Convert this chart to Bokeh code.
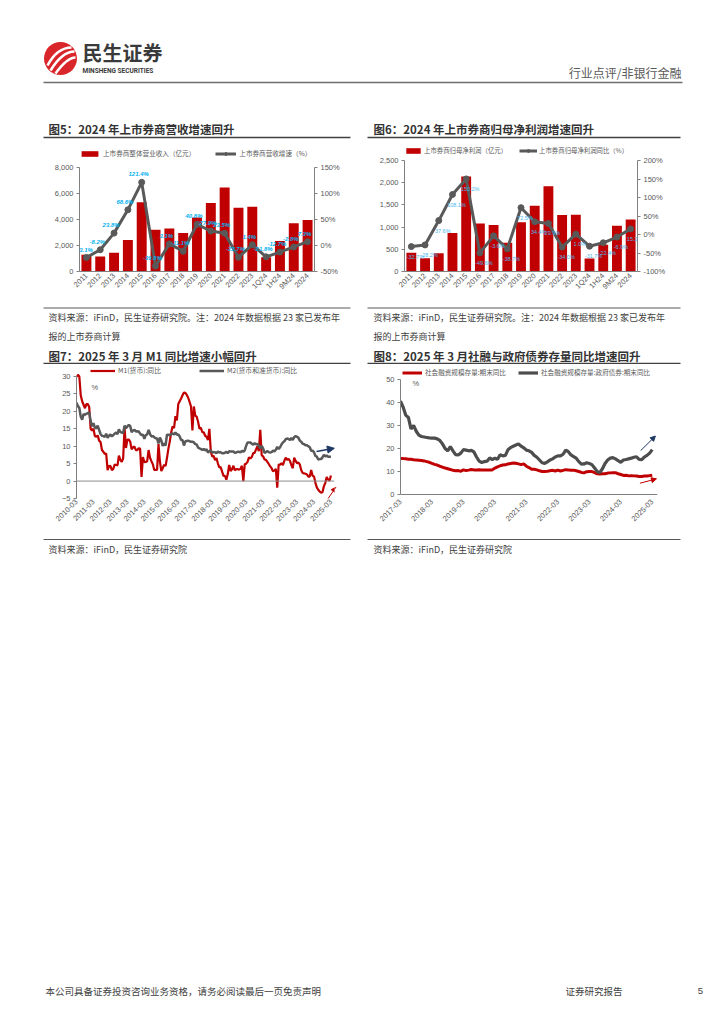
import math
from bokeh.plotting import figure
from bokeh.layouts import column, row
from bokeh.models import (Range1d, FactorRange, LinearAxis, FixedTicker, NumeralTickFormatter,
                          PrintfTickFormatter, Legend, LegendItem, LabelSet, ColumnDataSource,
                          Span, Arrow, NormalHead, Label)
from bokeh.core.properties import value
from bokeh.embed import file_html
from bokeh.resources import INLINE

CJK = "Noto Sans CJK SC"
NUM = "Liberation Sans"
RED = "#C00000"
DGRAY = "#595959"
TXT = "#404040"
NAVY = "#1F3864"
LBLUE = "#00B0F0"

# ---------------- data ----------------
cats = ["2011", "2012", "2013", "2014", "2015", "2016", "2017", "2018", "2019", "2020",
        "2021", "2022", "2023", "1Q24", "1H24", "9M24", "2024"]
revenue = [1280, 1150, 1450, 2420, 5330, 3220, 3300, 2960, 4150, 5260,
           6460, 4900, 4980, 1100, 2350, 3720, 3960]
revenue_growth = [-23.1, -8.2, 23.8, 68.6, 121.4, -39.6, 3.1, -11.1, 40.8, 27.9,
                  23.5, -22.7, 1.4, -21.8, -12.7, -2.8, 7.3]
profit = [425, 300, 410, 865, 2140, 1080, 1045, 645, 1110, 1480,
          1920, 1270, 1280, 295, 600, 1030, 1170]
profit_growth = [-32.7, -28.2, 37.6, 108.1, 150.2, -49.6, -3.6, -38.7, 72.5, 34.4,
                 29.9, -34.0, 1.0, -31.7, -22.4, -6.9, 15.2]

# monthly 2010-03 .. 2025-03
m1 = [29.9, 30.5, 30.0, 24.6, 22.9, 21.9, 20.9, 22.1, 22.1, 21.2,
      15.0, 14.5, 15.0, 12.9, 12.7, 13.1, 11.6, 11.2, 8.9, 8.4, 7.8, 7.9,
      3.1, 4.3, 4.4, 3.1, 3.5, 4.7, 4.6, 4.5, 7.3, 6.1, 5.5, 6.5,
      15.3, 9.5, 11.9, 11.9, 11.3, 9.1, 9.7, 9.9, 8.9, 8.9, 9.4, 9.3,
      1.2, 6.9, 5.4, 5.5, 5.7, 8.9, 6.7, 5.7, 4.8, 3.2, 3.2, 3.2,
      10.6, 5.6, 2.9, 3.7, 4.7, 4.3, 6.6, 9.3, 11.4, 14.0, 15.7, 15.2,
      18.6, 17.4, 22.1, 22.9, 23.7, 24.6, 25.4, 25.3, 24.7, 23.9, 22.7, 21.4,
      14.5, 21.4, 18.8, 18.5, 17.0, 15.0, 15.3, 14.0, 14.0, 13.0, 12.7, 11.8,
      15.0, 8.5, 7.1, 7.2, 6.0, 6.6, 5.1, 3.9, 4.0, 2.7, 1.5, 1.5,
      0.4, 2.0, 4.6, 2.9, 3.4, 4.4, 3.1, 3.4, 3.4, 3.3, 3.5, 4.4,
      0.0, 4.8, 5.0, 5.5, 6.8, 6.5, 6.9, 8.0, 8.1, 9.1, 10.0, 8.6,
      14.7, 7.4, 7.1, 6.2, 6.1, 5.5, 4.9, 4.2, 3.7, 2.8, 3.0, 3.5,
      -1.9, 4.7, 4.7, 5.1, 4.6, 5.8, 6.7, 6.1, 6.4, 5.8, 4.6, 3.7,
      6.7, 5.8, 5.1, 5.3, 4.7, 3.1, 2.3, 2.2, 2.1, 1.9, 1.3, 1.3,
      3.2, 1.5, 1.3, -0.5, -1.8, -2.5, -3.0, -3.3, -3.2, -1.5, -0.5, 1.2,
      0.4, 0.1, 1.6]
m2 = [22.5, 21.5, 21.0, 18.5, 17.6, 19.2, 19.0, 19.3, 19.5, 19.7,
      17.2, 15.7, 16.6, 15.3, 15.1, 15.9, 14.7, 13.5, 13.0, 12.9, 12.7, 13.6,
      12.4, 13.0, 13.4, 12.8, 13.2, 13.6, 13.9, 13.5, 14.8, 14.1, 13.9, 13.8,
      15.9, 15.2, 15.7, 16.1, 15.8, 14.0, 14.5, 14.7, 14.2, 14.3, 14.2, 13.6,
      13.2, 13.3, 12.1, 13.2, 13.4, 14.7, 13.5, 12.8, 12.9, 12.6, 12.3, 12.2,
      10.8, 12.5, 11.6, 10.1, 10.8, 10.2, 13.3, 13.3, 13.1, 13.5, 13.7, 13.3,
      14.0, 13.3, 13.4, 12.8, 11.8, 11.8, 10.2, 11.4, 11.5, 11.6, 11.4, 11.3,
      11.3, 11.1, 10.6, 10.5, 9.6, 9.4, 9.2, 8.9, 9.2, 8.8, 9.1, 8.2,
      8.6, 8.8, 8.2, 8.3, 8.3, 8.0, 8.5, 8.2, 8.3, 8.0, 8.0, 8.1,
      8.4, 8.0, 8.6, 8.5, 8.5, 8.5, 8.1, 8.2, 8.4, 8.4, 8.2, 8.7,
      8.4, 8.8, 10.1, 11.1, 11.1, 11.1, 10.7, 10.4, 10.9, 10.5, 10.7, 10.1,
      9.4, 10.1, 9.4, 8.1, 8.3, 8.6, 8.3, 8.2, 8.3, 8.7, 8.5, 9.0,
      9.8, 9.2, 9.7, 10.5, 11.1, 11.4, 12.0, 12.2, 12.1, 11.8, 12.4, 11.8,
      12.6, 12.9, 12.7, 12.4, 11.6, 11.3, 10.7, 10.6, 10.3, 10.3, 10.0, 9.7,
      8.7, 8.7, 8.3, 7.2, 7.0, 6.2, 6.3, 6.3, 6.8, 7.5, 7.1, 7.3,
      7.0, 7.0, 7.0]
m_ticks = ["2010-03", "2011-03", "2012-03", "2013-03", "2014-03", "2015-03", "2016-03",
           "2017-03", "2018-03", "2019-03", "2020-03", "2021-03", "2022-03", "2023-03",
           "2024-03", "2025-03"]

# monthly 2017-03 .. 2025-03
tsf = [15.6, 15.6, 15.5, 15.3, 15.3, 15.1, 15.0, 14.9, 14.8, 14.6,
       14.3, 14.0, 13.5, 13.1, 12.8, 12.3, 11.9, 11.5, 11.2, 10.9, 10.5, 10.3,
       10.4, 10.1, 10.7, 10.4, 10.6, 10.9, 10.7, 10.7, 10.8, 10.7, 10.7, 10.7,
       10.7, 10.7, 11.5, 12.0, 12.5, 12.8, 12.9, 13.3, 13.5, 13.7, 13.6, 13.3,
       13.0, 13.3, 12.3, 11.7, 11.0, 11.0, 10.7, 10.3, 10.0, 10.0, 10.1, 10.3,
       10.5, 10.2, 10.6, 10.2, 10.5, 10.8, 10.7, 10.5, 10.6, 10.3, 10.0, 9.6,
       9.4, 9.9, 10.0, 10.0, 9.5, 9.0, 8.9, 9.0, 9.0, 9.3, 9.4, 9.5,
       9.5, 9.0, 8.7, 8.3, 8.4, 8.1, 8.2, 8.1, 8.0, 7.8, 7.8, 8.0,
       8.0, 8.2, 8.4]
gov = [40.6, 38.0, 34.5, 33.5, 28.5, 30.0, 27.5, 25.8, 25.2, 25.0,
       24.8, 24.6, 24.5, 24.5, 24.2, 23.5, 22.0, 20.0, 19.0, 20.8, 19.0, 17.3,
       17.2, 18.0, 19.5, 19.3, 19.0, 19.2, 18.5, 16.3, 14.5, 13.9, 14.3, 14.5,
       15.9, 15.2, 15.8, 15.3, 17.3, 16.8, 17.0, 19.5, 20.4, 21.0, 21.5, 22.0,
       21.0, 20.3, 19.3, 19.0, 18.3, 17.0, 16.2, 15.0, 13.8, 13.5, 14.2, 15.0,
       15.5, 16.3, 16.8, 16.8, 17.5, 19.3, 18.6, 17.2, 16.5, 15.8, 14.3, 13.2,
       13.3, 13.8, 13.5, 13.0, 11.5, 10.0, 9.5, 11.2, 13.5, 15.0, 15.8, 16.0,
       15.5, 14.7, 14.0, 15.0, 15.2, 15.5, 15.8, 16.2, 16.4, 15.3, 15.2, 16.3,
       17.0, 18.0, 19.5]
t_ticks = ["2017-03", "2018-03", "2019-03", "2020-03", "2021-03", "2022-03", "2023-03",
           "2024-03", "2025-03"]

# annotation arrows (data coords: x0, y0, x1, y1)
arrow7_m2 = (169.8, 8.5, 182.4, 9.4)
arrow7_m1 = (177.0, -5.6, 183.6, -1.7)
arrow8_gov = (91.6, 19.1, 97.2, 25.4)
arrow8_tsf = (91.3, 4.9, 97.6, 6.8)

PAGE_W = 716


# ---------------- helpers ----------------
def deco(h, top):
    p = figure(width=PAGE_W, height=h, x_range=Range1d(0, PAGE_W),
               y_range=Range1d(top + h, top), toolbar_location=None, output_backend="svg",
               x_axis_location=None, y_axis_location=None, min_border=0)
    p.grid.visible = False
    p.outline_line_color = None
    return p


def txt(p, x, y, s, size, color=TXT, bold=False, align="left", font=CJK):
    p.text(x=[x], y=[y], text=[s], text_font=value(font), text_font_size=size,
           text_color=color, text_align=align, text_baseline="middle",
           text_font_style="bold" if bold else "normal")


def hline(p, x0, x1, y, color=TXT, w=1.0):
    p.segment(x0=[x0], y0=[y], x1=[x1], y1=[y], line_color=color, line_width=w)


def style_axis(ax, line=True):
    ax.axis_line_color = "#808080" if line else None
    ax.major_tick_line_color = "#808080" if line else None
    ax.minor_tick_line_color = None
    ax.major_tick_out = 3
    ax.major_tick_in = 0
    ax.major_label_text_font = NUM
    ax.major_label_text_font_size = "7.5px"
    ax.major_label_text_color = DGRAY
    ax.major_label_standoff = 3


def make_legend(items, loc, spacing, size="6.6px", gw=22, standoff=3):
    return Legend(items=items, orientation="horizontal", location=loc,
                  label_text_font=CJK, label_text_font_size=size, label_text_color=DGRAY,
                  label_height=10, label_width=10, glyph_height=7, glyph_width=gw,
                  label_standoff=standoff, spacing=spacing, padding=0, margin=0,
                  border_line_color=None, background_fill_alpha=0)


def span_range(lo, hi, px_lo, px_hi, frame_top, frame_bottom):
    # data range of a frame whose pixels frame_top..frame_bottom hold lo at px_lo and hi at px_hi
    per_px = (hi - lo) / (px_lo - px_hi)
    return Range1d(lo - (frame_bottom - px_lo) * per_px, hi + (px_hi - frame_top) * per_px)


# ---------------- block A: header ----------------
A = deco(142, 0)
A.circle(x=[60], y=[58], radius=16.5, fill_color="#D9262A", line_color=None)
A.bezier(x0=[47, 50, 55], y0=[65, 70, 73], x1=[71, 74, 75], y1=[47, 51, 57],
         cx0=[54, 58, 63], cy0=[52, 57, 62], cx1=[62, 66, 69], cy1=[47, 51, 57],
         line_color="white", line_width=2.6)
txt(A, 82, 52, "民生证券", "20px", color="#3A3A3A", bold=True)
txt(A, 82, 70, "MINSHENG SECURITIES", "6.5px", color="#3A3A3A", bold=True, font="Roboto")
txt(A, 681, 72, "行业点评/非银行金融", "12px", color=DGRAY, align="right")
hline(A, 43, 682, 82, color="#6E6E6E", w=1.5)
txt(A, 48, 128, "图5：2024 年上市券商营收增速回升", "11.5px", color="#333333", bold=True)
txt(A, 373, 128, "图6：2024 年上市券商归母净利润增速回升", "11.5px", color="#333333", bold=True)
hline(A, 43, 350, 137, color="#404040", w=1.5)
hline(A, 367, 680, 137, color="#404040", w=1.5)

# ---------------- row B (page y 142..304), frames 144..271 ----------------
B_TOP, B_H, B_BOT = 142, 162, 33
FB_TOP, FB_BOT = B_TOP + 2, B_TOP + B_H - B_BOT

src5 = ColumnDataSource(dict(cat=cats, rev=revenue, g=revenue_growth,
                             lab=[f"{v:.1f}%" for v in revenue_growth]))
p5 = figure(width=362, height=B_H, x_range=FactorRange(*cats),
            y_range=span_range(0, 8000, FB_BOT, 167, FB_TOP, FB_BOT),
            toolbar_location=None, output_backend="svg",
            min_border_left=79, min_border_right=48, min_border_top=2, min_border_bottom=B_BOT)
p5.extra_y_ranges = {"pct": span_range(-50, 150, FB_BOT, 167, FB_TOP, FB_BOT)}
b5 = p5.vbar(x="cat", top="rev", width=0.72, source=src5, fill_color=RED, line_color=None)
l5 = p5.line(x="cat", y="g", source=src5, y_range_name="pct", line_color=DGRAY, line_width=3)
s5 = p5.scatter(x="cat", y="g", source=src5, y_range_name="pct", size=6, marker="circle",
                fill_color=DGRAY, line_color=DGRAY)
p5.add_layout(LabelSet(x="cat", y="g", text="lab", source=src5, y_range_name="pct",
                       text_font=value(NUM), text_font_size="6px", text_color=LBLUE,
                       text_font_style="bold italic", text_align="center",
                       text_baseline="bottom", x_offset=-3, y_offset=5))
ax5r = LinearAxis(y_range_name="pct", ticker=FixedTicker(ticks=[-50, 0, 50, 100, 150]),
                  formatter=PrintfTickFormatter(format="%d%%"), bounds=(-50, 150))
p5.add_layout(ax5r, "right")
p5.yaxis[0].ticker = FixedTicker(ticks=[0, 2000, 4000, 6000, 8000])
p5.yaxis[0].formatter = NumeralTickFormatter(format="0,0")
p5.yaxis[0].bounds = (0, 8000)
p5.add_layout(make_legend([LegendItem(label="上市券商整体营业收入（亿元）", renderers=[b5]),
                           LegendItem(label="上市券商营收增速（%）", renderers=[l5, s5])],
                          (0, FB_BOT - 158), 20, size="6.6px", gw=21))

src6 = ColumnDataSource(dict(cat=cats, pr=profit, g=profit_growth,
                             lab=[f"{v:.1f}%" for v in profit_growth]))
p6 = figure(width=354, height=B_H, x_range=FactorRange(*cats),
            y_range=span_range(0, 2500, FB_BOT, 160, FB_TOP, FB_BOT),
            toolbar_location=None, output_backend="svg",
            min_border_left=42, min_border_right=79, min_border_top=2, min_border_bottom=B_BOT)
p6.extra_y_ranges = {"pct": span_range(-100, 200, FB_BOT, 160, FB_TOP, FB_BOT)}
b6 = p6.vbar(x="cat", top="pr", width=0.72, source=src6, fill_color=RED, line_color=None)
l6 = p6.line(x="cat", y="g", source=src6, y_range_name="pct", line_color=DGRAY, line_width=3)
s6 = p6.scatter(x="cat", y="g", source=src6, y_range_name="pct", size=6, marker="circle",
                fill_color=DGRAY, line_color=DGRAY)
p6.add_layout(LabelSet(x="cat", y="g", text="lab", source=src6, y_range_name="pct",
                       text_font=value(NUM), text_font_size="5.5px", text_color="#4BB8EE",
                       text_align="center", text_baseline="top", x_offset=4, y_offset=-7))
ax6r = LinearAxis(y_range_name="pct", ticker=FixedTicker(ticks=[-100, -50, 0, 50, 100, 150, 200]),
                  formatter=PrintfTickFormatter(format="%d%%"), bounds=(-100, 200))
p6.add_layout(ax6r, "right")
p6.yaxis[0].ticker = FixedTicker(ticks=[0, 500, 1000, 1500, 2000, 2500])
p6.yaxis[0].formatter = NumeralTickFormatter(format="0,0")
p6.yaxis[0].bounds = (0, 2500)
p6.add_layout(make_legend([LegendItem(label="上市券商归母净利润（亿元）", renderers=[b6]),
                           LegendItem(label="上市券商归母净利润同比（%）", renderers=[l6, s6])],
                          (0, FB_BOT - 155), 12, size="6.4px", gw=18, standoff=2))

for p in (p5, p6):
    p.grid.visible = False
    p.outline_line_color = None
    for ax in p.yaxis:
        style_axis(ax)
    style_axis(p.xaxis[0])
    p.xaxis[0].major_tick_out = 0
    p.xaxis[0].major_label_orientation = math.pi / 4
    p.x_range.range_padding = 0

# ---------------- block C ----------------
C = deco(60, 304)
hline(C, 43, 350, 307.5, color="#595959", w=1)
hline(C, 367, 680, 307.5, color="#595959", w=1)
note1 = "资料来源：iFinD，民生证券研究院。注：2024 年数据根据 23 家已发布年"
note2 = "报的上市券商计算"
for x0 in (48, 373):
    txt(C, x0, 317, note1, "9px", color=TXT)
    txt(C, x0, 336, note2, "9px", color=TXT)
txt(C, 48, 355, "图7：2025 年 3 月 M1 同比增速小幅回升", "11.5px", color="#333333", bold=True)
txt(C, 373, 355, "图8：2025 年 3 月社融与政府债券存量同比增速回升", "11.5px", color="#333333", bold=True)
hline(C, 43, 350, 363, color="#404040", w=1.5)
hline(C, 367, 680, 363, color="#404040", w=1.5)

# ---------------- row D (page y 364..538), frames 366..498 ----------------
D_TOP, D_H, D_BOT = 364, 174, 40
FD_TOP, FD_BOT = D_TOP + 2, D_TOP + D_H - D_BOT

xs7 = list(range(len(m1)))
p7 = figure(width=362, height=D_H, x_range=Range1d(0, 182.5),
            y_range=span_range(-5, 30, FD_BOT, 376, FD_TOP, FD_BOT),
            toolbar_location=None, output_backend="svg",
            min_border_left=76, min_border_right=28, min_border_top=2, min_border_bottom=D_BOT)
p7.add_layout(Span(location=0, dimension="width", line_color="#8C8C8C", line_width=1))
r71 = p7.line(xs7, m1, line_color=RED, line_width=2.2)
r72 = p7.line(xs7, m2, line_color=DGRAY, line_width=2.5)
p7.yaxis[0].ticker = FixedTicker(ticks=[-5, 0, 5, 10, 15, 20, 25, 30])
p7.yaxis[0].bounds = (-5, 30)
p7.xaxis[0].ticker = FixedTicker(ticks=[12 * i for i in range(len(m_ticks))])
p7.xaxis[0].major_label_overrides = {12 * i: s for i, s in enumerate(m_ticks)}
p7.add_layout(Label(x=10.6, y=26.8, text="%", text_font=NUM, text_font_size="7.5px",
                    text_color=DGRAY, text_baseline="middle"))
p7.add_layout(Arrow(end=NormalHead(size=7, fill_color=NAVY, line_color=NAVY),
                    x_start=arrow7_m2[0], y_start=arrow7_m2[1], x_end=arrow7_m2[2],
                    y_end=arrow7_m2[3], line_color=NAVY, line_width=1.5))
p7.add_layout(Arrow(end=NormalHead(size=5, fill_color=RED, line_color=RED),
                    x_start=arrow7_m1[0], y_start=arrow7_m1[1], x_end=arrow7_m1[2],
                    y_end=arrow7_m1[3], line_color=RED, line_width=1))
p7.add_layout(make_legend([LegendItem(label="M1(货币):同比", renderers=[r71]),
                           LegendItem(label="M2(货币和准货币):同比", renderers=[r72])],
                          (14, FD_BOT - 375), 38, size="6.8px", gw=25))

xs8 = list(range(len(tsf)))
p8 = figure(width=354, height=D_H, x_range=Range1d(0, 98),
            y_range=span_range(0, 50, 494, 379, FD_TOP, FD_BOT),
            toolbar_location=None, output_backend="svg",
            min_border_left=38, min_border_right=59, min_border_top=2, min_border_bottom=D_BOT)
p8.add_layout(Span(location=0, dimension="width", line_color="#808080", line_width=1))
r81 = p8.line(xs8, tsf, line_color=RED, line_width=3)
r82 = p8.line(xs8, gov, line_color="#4D4D4D", line_width=3.2)
p8.yaxis[0].ticker = FixedTicker(ticks=[0, 10, 20, 30, 40, 50])
p8.yaxis[0].bounds = (0, 50)
p8.xaxis[0].ticker = FixedTicker(ticks=[12 * i for i in range(len(t_ticks))])
p8.xaxis[0].major_label_overrides = {12 * i: s for i, s in enumerate(t_ticks)}
p8.add_layout(Label(x=4.6, y=48.2, text="%", text_font=NUM, text_font_size="7.5px",
                    text_color=DGRAY, text_baseline="middle"))
p8.add_layout(Arrow(end=NormalHead(size=5, fill_color=NAVY, line_color=NAVY),
                    x_start=arrow8_gov[0], y_start=arrow8_gov[1], x_end=arrow8_gov[2],
                    y_end=arrow8_gov[3], line_color=NAVY, line_width=1))
p8.add_layout(Arrow(end=NormalHead(size=5, fill_color=RED, line_color=RED),
                    x_start=arrow8_tsf[0], y_start=arrow8_tsf[1], x_end=arrow8_tsf[2],
                    y_end=arrow8_tsf[3], line_color=RED, line_width=1))
p8.add_layout(make_legend([LegendItem(label="社会融资规模存量:期末同比", renderers=[r81]),
                           LegendItem(label="社会融资规模存量:政府债券:期末同比", renderers=[r82])],
                          (2, FD_BOT - 377), 12, size="6.6px", gw=20))

for p in (p7, p8):
    p.grid.visible = False
    p.outline_line_color = None
    style_axis(p.yaxis[0])
    style_axis(p.xaxis[0], line=False)
    p.xaxis[0].major_label_orientation = math.pi / 4
    p.xaxis[0].major_label_standoff = 2
    p.xaxis[0].major_tick_out = 0

# ---------------- block E ----------------
E_TOP = D_TOP + D_H
E = deco(1012 - E_TOP, E_TOP)
hline(E, 43, 350, E_TOP + 1, color="#595959", w=1)
hline(E, 367, 680, E_TOP + 1, color="#595959", w=1)
txt(E, 48, E_TOP + 11, "资料来源：iFinD，民生证券研究院", "9px", color=TXT)
txt(E, 373, E_TOP + 11, "资料来源：iFinD，民生证券研究院", "9px", color=TXT)
txt(E, 45, 990, "本公司具备证券投资咨询业务资格，请务必阅读最后一页免责声明", "9.5px", color=TXT)
txt(E, 565, 990, "证券研究报告", "9.5px", color=TXT)
txt(E, 700, 990, "5", "9.5px", color=TXT, align="center", font=NUM)

layout = column(A, row(p5, p6), C, row(p7, p8), E)
open("out.html", "w").write(file_html(layout, INLINE, "chart"))
